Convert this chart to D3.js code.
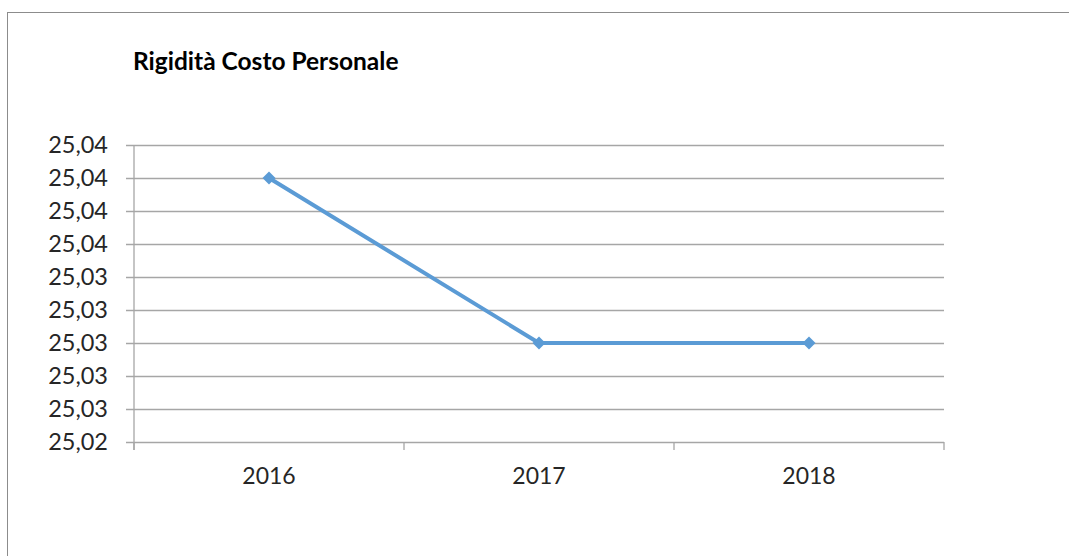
<!DOCTYPE html>
<html>
<head>
<meta charset="utf-8">
<script src="https://cdn.jsdelivr.net/npm/d3@7"></script>
<style>
  body { margin: 0; background: #fff; }
  text { font-family: Lato, "Open Sans", sans-serif; fill: #262626; }
</style>
</head>
<body>
<div id="chart"></div>
<script>
// values
const years = ['2016', '2017', '2018'];
const values = [25.040, 25.030, 25.030];
const yTicks = [25.024, 25.026, 25.028, 25.030, 25.032, 25.034, 25.036, 25.038, 25.040, 25.042];
const title = 'Rigidità Costo Personale';

let width = 1069;
let height = 556;
let margin = {left: 134, right: 125, top: 145, bottom: 114};

let svg = d3.select('#chart')
    .append('svg')
    .attr('width', width)
    .attr('height', height);

// outer frame
svg.append('rect')
    .attr('x', 7.5).attr('y', 12.5)
    .attr('width', 1080).attr('height', 560)
    .attr('fill', 'none')
    .attr('stroke', '#8c8c8c')
    .attr('stroke-width', 1);

svg.append('text')
    .attr('x', 133).attr('y', 70)
    .attr('font-size', 24.5)
    .attr('font-weight', 'bold')
    .style('fill', '#000')
    .text(title);

let x = d3.scaleBand().domain(years).range([margin.left, width - margin.right]);
let y = d3.scaleLinear().domain([25.024, 25.042]).range([height - margin.bottom, margin.top]);

// gridlines + y ticks
let yAxis = d3.axisLeft(y)
    .tickValues(yTicks)
    .tickSize(-(width - margin.left - margin.right))
    .tickPadding(26)
    .tickFormat(d => d3.format('.2f')(d).replace('.', ','));

let gy = svg.append('g')
    .attr('transform', 'translate(' + margin.left + ',0)')
    .call(yAxis);
gy.select('.domain').remove();
gy.selectAll('.tick line')
    .attr('x1', -8)
    .attr('stroke', '#a6a6a6')
    .attr('stroke-width', 1.3);
gy.selectAll('.tick text').attr('font-size', 23.5);

// left axis line
svg.append('line')
    .attr('x1', margin.left).attr('x2', margin.left)
    .attr('y1', margin.top).attr('y2', height - margin.bottom + 8)
    .attr('stroke', '#a6a6a6')
    .attr('stroke-width', 1.3);

// x axis: tick marks at category boundaries
let xb = years.map(d => x(d)).concat([width - margin.right]);
svg.selectAll('.xtick')
    .data(xb)
    .enter().append('line')
    .attr('class', 'xtick')
    .attr('x1', d => d).attr('x2', d => d)
    .attr('y1', height - margin.bottom).attr('y2', height - margin.bottom + 8)
    .attr('stroke', '#a6a6a6')
    .attr('stroke-width', 1.3);

svg.selectAll('.xlabel')
    .data(years)
    .enter().append('text')
    .attr('class', 'xlabel')
    .attr('x', d => x(d) + x.bandwidth() / 2)
    .attr('y', height - margin.bottom + 42)
    .attr('text-anchor', 'middle')
    .attr('font-size', 23)
    .text(d => d);

let data = years.map((d, i) => ({year: d, value: values[i]}));

let line = d3.line()
    .x(function(d) { return x(d.year) + x.bandwidth() / 2; })
    .y(function(d) { return y(d.value); });

svg.append('path')
    .datum(data)
    .attr('d', line)
    .attr('fill', 'none')
    .attr('stroke', '#5b9bd5')
    .attr('stroke-width', 4)
    .attr('stroke-linejoin', 'round');

svg.selectAll('.marker')
    .data(data)
    .enter().append('path')
    .attr('class', 'marker')
    .attr('d', d3.symbol().type(d3.symbolSquare).size(85))
    .attr('transform', d => 'translate(' + (x(d.year) + x.bandwidth() / 2) + ',' + y(d.value) + ') rotate(45)')
    .attr('fill', '#5b9bd5');
</script>
</body>
</html>
